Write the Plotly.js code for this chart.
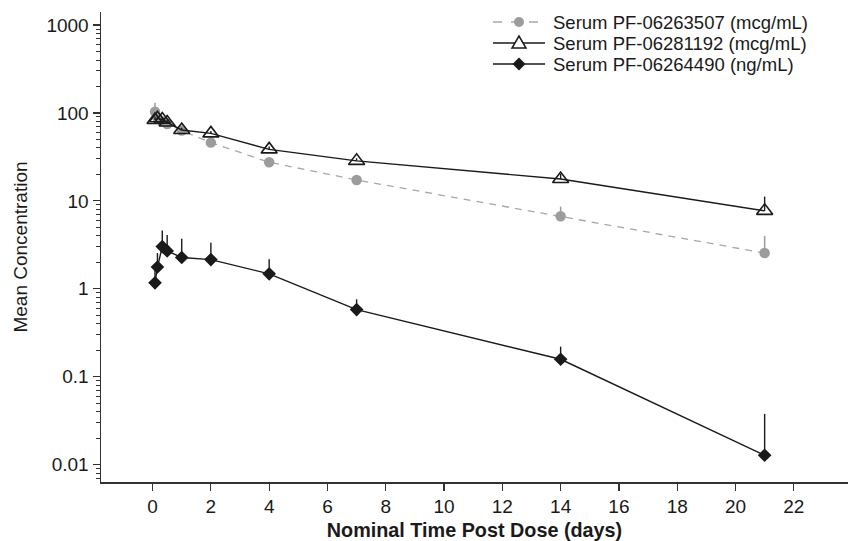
<!DOCTYPE html>
<html>
<head>
<meta charset="utf-8">
<script src="https://cdn.plot.ly/plotly-3.0.1.min.js"></script>
<style>
  html, body { margin: 0; padding: 0; background: #fff; }
  #chart { width: 848px; height: 541px; }
</style>
</head>
<body>
<div id="chart"></div>
<script>
// ---- Data ----
const times = [0.083, 0.167, 0.333, 0.5, 1, 2, 4, 7, 14, 21];

const seriesNames = [
  "Serum PF-06263507 (mcg/mL)",
  "Serum PF-06281192 (mcg/mL)",
  "Serum PF-06264490 (ng/mL)"
];

const pf06263507 = [103, 88, 80, 75, 63, 46, 27.5, 17.3, 6.7, 2.55];
const pf06263507Sd = [28, 6, 5, 5, 4, 4, 2.5, 1.5, 1.9, 1.45];

const pf06281192 = [83, 87, 84, 78, 64, 58.5, 38.5, 28.5, 17.7, 7.7];
const pf06281192Sd = [8, 6, 5, 5, 4, 4, 3, 2, 2.5, 3.5];

const pf06264490 = [1.17, 1.77, 3.02, 2.7, 2.27, 2.15, 1.48, 0.58, 0.158, 0.0128];
const pf06264490Sd = [0.48, 0.78, 1.58, 1.4, 1.43, 1.18, 0.69, 0.18, 0.062, 0.025];

const xTickVals = [0, 2, 4, 6, 8, 10, 12, 14, 16, 18, 20, 22];
const yTickVals = [0.01, 0.1, 1, 10, 100, 1000];
const yTickText = ["0.01", "0.1", "1", "10", "100", "1000"];

// ---- Styles ----
const FONT = "Liberation Sans, Arial, Helvetica, sans-serif";
const GREY = "#9c9c9c";
const GREY_LINE = "#a8a8a8";
const BLACK = "#1a1a1a";

function upperErr(arr, color, thick) {
  return {
    type: "data", symmetric: false, array: arr,
    arrayminus: arr.map(() => 0),
    color: color, thickness: thick, width: 0, visible: true
  };
}

const traces = [
  {
    x: times, y: pf06263507, name: seriesNames[0], type: "scatter", mode: "lines+markers",
    line: { color: GREY_LINE, width: 1.3, dash: "7px,6px" },
    marker: { symbol: "circle", size: 10.5, color: GREY },
    error_y: upperErr(pf06263507Sd, GREY, 1.5),
    showlegend: false
  },
  {
    x: times, y: pf06281192, name: seriesNames[1], type: "scatter", mode: "lines+markers",
    line: { color: BLACK, width: 1.4 },
    marker: { symbol: "triangle-up-open", size: 14, color: BLACK, line: { width: 1.6, color: BLACK } },
    error_y: upperErr(pf06281192Sd, BLACK, 1.4),
    showlegend: false
  },
  {
    x: times, y: pf06264490, name: seriesNames[2], type: "scatter", mode: "lines+markers",
    line: { color: BLACK, width: 1.4 },
    marker: { symbol: "diamond", size: 10.5, color: BLACK },
    error_y: upperErr(pf06264490Sd, BLACK, 1.4),
    showlegend: false
  }
];

// ---- Layout geometry ----
const W = 848, H = 541;
const M = { l: 101, r: 0, t: 12, b: 59 };
const plotW = W - M.l - M.r, plotH = H - M.t - M.b;
const px2x = px => (px - M.l) / plotW;
const px2y = py => (H - M.b - py) / plotH;

// Manual legend (compact rows like the reference)
const legRowsY = [22, 43, 64];
const legX0 = 493, legX1 = 545, legMid = 519, legText = 552;
const shapes = [];
const annotations = [];
const legendStyles = [
  { line: { color: GREY_LINE, width: 1.3, dash: "dash" } },
  { line: { color: BLACK, width: 1.3 } },
  { line: { color: BLACK, width: 1.3 } }
];
legRowsY.forEach((py, i) => {
  shapes.push({
    type: "line", xref: "paper", yref: "paper",
    x0: px2x(legX0), x1: px2x(legX1), y0: px2y(py), y1: px2y(py),
    line: legendStyles[i].line
  });
  annotations.push({
    xref: "paper", yref: "paper", x: px2x(legText), y: px2y(py),
    xanchor: "left", yanchor: "middle", showarrow: false, borderpad: 0,
    text: seriesNames[i], font: { family: FONT, size: 18.5, color: "#1a1a1a" }
  });
});
// legend symbols
shapes.push({
  type: "circle", xref: "paper", yref: "paper", xsizemode: "pixel", ysizemode: "pixel",
  xanchor: px2x(legMid), yanchor: px2y(legRowsY[0]), x0: -5, x1: 5, y0: -5, y1: 5,
  fillcolor: GREY, line: { width: 0 }
});
shapes.push({
  type: "path", xref: "paper", yref: "paper", xsizemode: "pixel", ysizemode: "pixel",
  xanchor: px2x(legMid), yanchor: px2y(legRowsY[1]),
  path: "M-7,-5 L7,-5 L0,7 Z",
  fillcolor: "#ffffff", line: { color: BLACK, width: 1.5 }
});
shapes.push({
  type: "path", xref: "paper", yref: "paper", xsizemode: "pixel", ysizemode: "pixel",
  xanchor: px2x(legMid), yanchor: px2y(legRowsY[2]),
  path: "M0,6.5 L6.5,0 L0,-6.5 L-6.5,0 Z",
  fillcolor: BLACK, line: { width: 0 }
});

const layout = {
  width: W, height: H,
  margin: M,
  paper_bgcolor: "#ffffff", plot_bgcolor: "#ffffff",
  font: { family: FONT, color: "#1a1a1a", size: 19 },
  showlegend: false,
  xaxis: {
    range: [-1.77, 23.86],
    tickmode: "array", tickvals: xTickVals,
    ticks: "outside", ticklen: 7, tickwidth: 1.2, tickcolor: "#333",
    showline: true, linecolor: "#333", linewidth: 1.5,
    showgrid: false, zeroline: false,
    tickfont: { family: FONT, size: 19, color: "#1a1a1a" },
    title: { text: "Nominal Time Post Dose (days)", standoff: 9,
             font: { family: FONT, size: 19.8, color: "#1a1a1a", weight: "bold" } }
  },
  yaxis: {
    type: "log",
    range: [-2.197, 3.148],
    tickmode: "array", tickvals: yTickVals, ticktext: yTickText,
    ticks: "outside", ticklen: 7, tickwidth: 1.2, tickcolor: "#333",
    minor: { ticks: "outside", ticklen: 4, tickwidth: 1, tickcolor: "#333", dtick: "D1", showgrid: false },
    showline: true, linecolor: "#333", linewidth: 1.5,
    showgrid: false, zeroline: false,
    tickfont: { family: FONT, size: 19, color: "#1a1a1a" },
    title: { text: "Mean Concentration", standoff: 14,
             font: { family: FONT, size: 19, color: "#1a1a1a" } }
  },
  shapes: shapes,
  annotations: annotations
};

Plotly.newPlot("chart", traces, layout, { displayModeBar: false, staticPlot: true });
</script>
</body>
</html>
